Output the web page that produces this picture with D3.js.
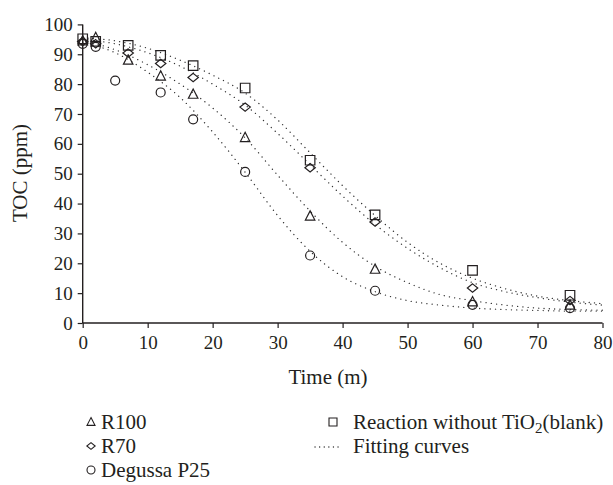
<!DOCTYPE html>
<html>
<head>
<meta charset="utf-8">
<script src="https://cdn.jsdelivr.net/npm/d3@7"></script>
<style>
  body { margin: 0; background: #fff; }
  text { font-family: "Liberation Serif", "Times New Roman", serif; fill: #231f20; }
</style>
</head>
<body>
<script>
// measured points (time in minutes, TOC in ppm)
const blankT = [0, 2, 7, 12, 17, 25, 35, 45, 60, 75];
const blankY = [95.2, 94.3, 93, 89.6, 86.2, 78.7, 54.5, 36.2, 17.6, 9.3];
const r70T = [0, 2, 7, 12, 17, 25, 35, 45, 60, 75];
const r70Y = [94.3, 93.5, 90.4, 86.9, 82.2, 72.3, 52, 33.8, 11.7, 7.5];
const r100T = [0, 2, 7, 12, 17, 25, 35, 45, 60, 75];
const r100Y = [94.5, 95.6, 88, 82.7, 76.6, 62.1, 35.8, 18, 7.1, 6];
const p25T = [0, 2, 5, 12, 17, 25, 35, 45, 60, 75];
const p25Y = [93.5, 92.5, 81.2, 77.2, 68.2, 50.6, 22.6, 10.8, 6.1, 5];

// fitting curves, every 5 minutes
const fitT = [0, 5, 10, 15, 20, 25, 30, 35, 40, 45, 50, 55, 60, 65, 70, 75, 80];
const fitBlank = [95.5, 94.5, 92, 88, 83, 77, 68, 57, 46, 36, 27, 20, 15, 11.5, 9, 7.5, 6.5];
const fitR70 = [95, 93.5, 90.5, 86, 80, 73, 63.5, 53, 42.5, 33, 25, 18.5, 13.5, 10.5, 8.5, 7, 6];
const fitR100 = [94.5, 91.5, 86.5, 80, 72, 62, 49.5, 37.5, 27, 19, 13.5, 9.5, 7.5, 6, 5, 4.5, 4.3];
const fitP25 = [94, 90.5, 84, 75.5, 64, 50.5, 36, 24, 15.5, 10.5, 7.5, 6, 5, 4.5, 4.2, 4, 4];

const xTicks = [0, 10, 20, 30, 40, 50, 60, 70, 80];
const yTicks = [0, 10, 20, 30, 40, 50, 60, 70, 80, 90, 100];

const width = 613, height = 485;
const ink = "#231f20";

const svg = d3.select("body").append("svg")
    .attr("width", width)
    .attr("height", height);

const x = d3.scaleLinear().domain([0, 80]).range([82.7, 602.5]);
const y = d3.scaleLinear().domain([0, 100]).range([323, 24.4]);

// marker shapes
const shapes = {
    triangle: s => `M0,${-s * 0.55}L${s * 0.5},${s * 0.42}L${-s * 0.5},${s * 0.42}Z`,
    diamond: s => `M0,${-s * 0.42}L${s * 0.52},0L0,${s * 0.42}L${-s * 0.52},0Z`,
    square: s => `M${-s / 2},${-s / 2}h${s}v${s}h${-s}Z`,
    circle: s => d3.symbol(d3.symbolCircle, Math.PI * (s / 2) * (s / 2))()
};

// fitting curves
const fits = [fitBlank, fitR70, fitR100, fitP25];
const line = d3.line()
    .x((d, i) => x(fitT[i]))
    .y(d => y(d))
    .curve(d3.curveMonotoneX);

svg.append("g")
    .selectAll("path")
    .data(fits)
    .join("path")
    .attr("d", d => line(d))
    .attr("fill", "none")
    .attr("stroke", "#333")
    .attr("stroke-width", 1.3)
    .attr("stroke-linecap", "round")
    .attr("stroke-dasharray", "0.1,5.2");

// axes
const xAxis = svg.append("g")
    .attr("transform", `translate(0,${y(0)})`)
    .call(d3.axisBottom(x).tickValues(xTicks).tickSize(5).tickPadding(8).tickFormat(d3.format("d")));
const yAxis = svg.append("g")
    .attr("transform", `translate(${x(0)},0)`)
    .call(d3.axisLeft(y).tickValues(yTicks).tickSize(5).tickPadding(5).tickFormat(d3.format("d")));

[xAxis, yAxis].forEach(a => {
    a.attr("font-family", null);
    a.select(".domain").attr("stroke", ink).attr("stroke-width", 1.4)
        .attr("d", a === xAxis ? `M${x(0)},0H${x(80)}` : `M0,${y(0)}V${y(100)}`);
    a.selectAll(".tick line").attr("stroke", ink).attr("stroke-width", 1.2);
    a.selectAll(".tick text").attr("font-size", 19).attr("fill", ink);
});

// measured series
const series = [
    {shape: "triangle", t: r100T, v: r100Y, size: 9.5},
    {shape: "diamond", t: r70T, v: r70Y, size: 10},
    {shape: "circle", t: p25T, v: p25Y, size: 9},
    {shape: "square", t: blankT, v: blankY, size: 9.5}
];

series.forEach(s => {
    svg.append("g")
        .selectAll("path")
        .data(s.v)
        .join("path")
        .attr("transform", (d, i) => `translate(${x(s.t[i])},${y(d)})`)
        .attr("d", shapes[s.shape](s.size))
        .attr("fill", "none")
        .attr("stroke", ink)
        .attr("stroke-width", 1.2);
});

// axis titles
svg.append("text")
    .attr("x", 328).attr("y", 384)
    .attr("text-anchor", "middle")
    .attr("font-size", 21)
    .text("Time (m)");

svg.append("text")
    .attr("transform", `translate(27,173) rotate(-90)`)
    .attr("text-anchor", "middle")
    .attr("font-size", 21)
    .text("TOC (ppm)");

// legend
const legendItems = [
    {shape: "triangle", label: "R100", lx: 91, ly: 422},
    {shape: "diamond", label: "R70", lx: 91, ly: 446},
    {shape: "circle", label: "Degussa P25", lx: 91, ly: 470},
    {shape: "square", label: "Reaction without TiO", sub: "2", tail: "(blank)", lx: 333, ly: 422},
    {shape: "fit", label: "Fitting curves", lx: 333, ly: 446}
];

const legend = svg.append("g");
legendItems.forEach(d => {
    if (d.shape === "fit") {
        legend.append("line")
            .attr("x1", d.lx - 18).attr("x2", d.lx + 6)
            .attr("y1", d.ly + 1).attr("y2", d.ly + 1)
            .attr("stroke", "#333").attr("stroke-width", 1.3)
            .attr("stroke-linecap", "round")
            .attr("stroke-dasharray", "0.1,4.5");
    } else {
        legend.append("path")
            .attr("transform", `translate(${d.lx},${d.ly})`)
            .attr("d", shapes[d.shape](8))
            .attr("fill", "none")
            .attr("stroke", ink)
            .attr("stroke-width", 1.1);
    }
    const t = legend.append("text")
        .attr("x", d.lx + (d.lx > 200 ? 20 : 10))
        .attr("y", d.ly + 7)
        .attr("font-size", 21)
        .text(d.label);
    if (d.sub) {
        t.append("tspan").attr("font-size", 15).attr("dy", 4).text(d.sub);
        t.append("tspan").attr("dy", -4).text(d.tail);
    }
});
</script>
</body>
</html>
